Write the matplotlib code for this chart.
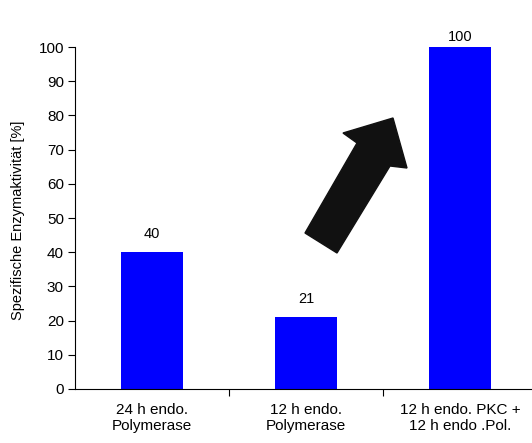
import matplotlib
matplotlib.use("Agg")
import matplotlib.pyplot as plt
from matplotlib.patches import Polygon
from matplotlib.ticker import FixedLocator, NullFormatter

plt.rcParams['font.family'] = ['Liberation Sans', 'DejaVu Sans']

categories = ["24 h endo.\nPolymerase", "12 h endo.\nPolymerase", "12 h endo. PKC +\n12 h endo .Pol."]
values = [40, 21, 100]
y_ticks = [0, 10, 20, 30, 40, 50, 60, 70, 80, 90, 100]

W, H = 532, 443
fig = plt.figure(figsize=(W / 100, H / 100), dpi=100)
ax = fig.add_axes([75 / W, 1 - 389 / H, 462 / W, 342 / H])

x = list(range(len(categories)))
ax.bar(x, values, width=0.4, color="#0000FF", zorder=2)

ymax = 100
for xi, v in zip(x, values):
    # keep the label of a full-height bar close to the plot edge
    off = 2.5 if v >= ymax else 8
    ax.annotate(str(v), (xi, v), xytext=(0, off), textcoords="offset points",
                ha="center", va="bottom", fontsize=10.5, color="black")

ax.set_xlim(-0.5, 2.5)
ax.set_ylim(0, ymax)
ax.set_yticks(y_ticks)
ax.tick_params(axis="y", direction="out", length=5, width=0.8, labelsize=11, pad=3)

# category boundaries carry the tick marks, labels sit under the bars
ax.xaxis.set_major_locator(FixedLocator([0.5, 1.5, 2.5]))
ax.xaxis.set_major_formatter(NullFormatter())
ax.xaxis.set_minor_locator(FixedLocator(x))
ax.set_xticklabels(categories, minor=True, fontsize=11, linespacing=1.15)
ax.tick_params(axis="x", which="major", direction="out", length=5, width=0.8)
ax.tick_params(axis="x", which="minor", length=0, pad=10)

ax.spines["top"].set_visible(False)
ax.spines["right"].set_visible(False)
for s in ("left", "bottom"):
    ax.spines[s].set_linewidth(0.8)
    ax.spines[s].set_color("black")

fig.text(18 / W, 1 - 220 / H, "Spezifische Enzymaktivität [%]", rotation=90,
         ha="center", va="center", fontsize=10.5)

# block arrow pointing toward the combined treatment bar
pts = [(305, 233), (337, 253), (390, 166), (407, 168), (393, 118),
       (343, 133), (357, 143)]
fig_pts = [(px / W, 1 - py / H) for px, py in pts]
fig.patches.append(Polygon(fig_pts, closed=True, transform=fig.transFigure,
                           facecolor="#111111", edgecolor="#111111", lw=1))

fig.savefig("out.png", dpi=100)
